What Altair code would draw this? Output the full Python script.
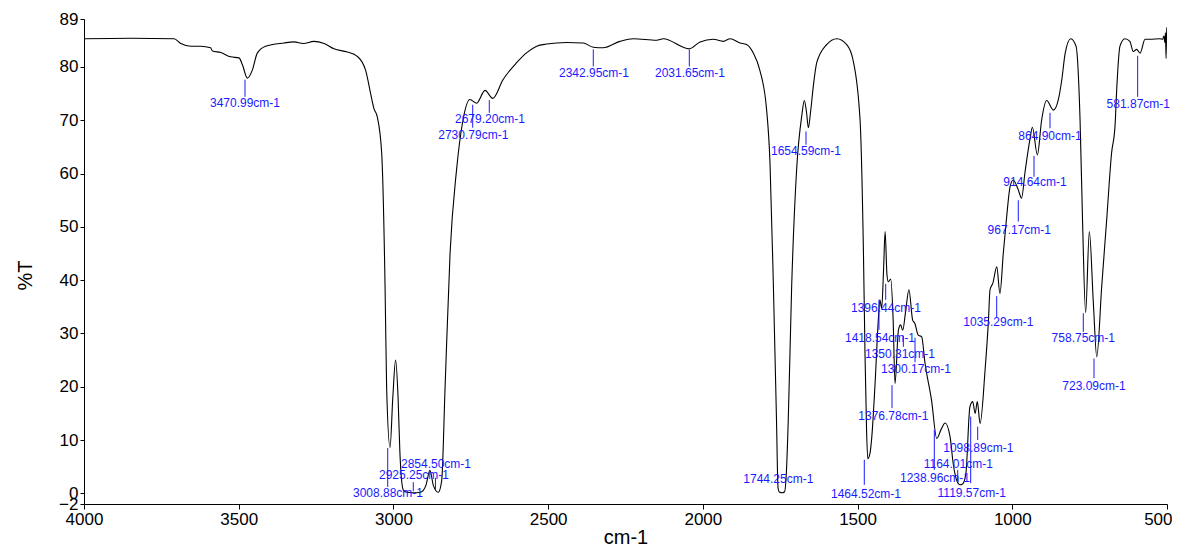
import altair as alt
import pandas as pd

# ---- spectrum (wavenumber cm-1, %T) ----
wavenumber = [
    4000, 3850, 3709, 3687, 3655, 3623, 3591, 3585, 3558, 3526, 3499, 3488, 3472, 3456,
    3440, 3413, 3354, 3321, 3291, 3257, 3224, 3192, 3149, 3117, 3090, 3074, 3063, 3052,
    3038, 3027, 3022, 3011, 3002, 2993, 2985, 2979, 2968, 2957, 2925, 2909, 2895, 2882,
    2871, 2855, 2844, 2833, 2817, 2796, 2775, 2753, 2731, 2704, 2679, 2646, 2602, 2569,
    2537, 2505, 2440, 2387, 2354, 2322, 2268, 2225, 2149, 2128, 2044, 2009, 1966, 1934,
    1912, 1880, 1859, 1837, 1816, 1794, 1783, 1772, 1762, 1757, 1752, 1744, 1736, 1730,
    1724, 1713, 1697, 1680, 1672, 1665, 1659, 1652, 1643, 1632, 1600, 1567, 1535, 1515,
    1492, 1481, 1476, 1471, 1467, 1460, 1454, 1444, 1433, 1428, 1422, 1416, 1411, 1405,
    1401, 1393, 1385, 1379, 1368, 1361, 1354, 1345, 1334, 1322, 1315, 1304, 1293, 1282,
    1261, 1244, 1230, 1217, 1201, 1191, 1180, 1169, 1160, 1150, 1137, 1128, 1120, 1113,
    1104, 1088, 1077, 1072, 1063, 1050, 1040, 1029, 1018, 1007, 997, 981, 970, 959,
    943, 935, 919, 905, 889, 867, 851, 840, 829, 811, 794, 781, 773, 763,
    751, 738, 727, 711, 695, 679, 668, 662, 652, 636, 620, 609, 598, 587,
    571, 555, 523, 514, 510, 507, 505, 503, 501, 500,
]
transmittance = [
    85.3, 85.4, 85.3, 84.4, 83.9, 83.9, 83.6, 83.0, 82.7, 81.9, 81.7, 80.4, 77.9, 79.4,
    82.6, 83.9, 84.5, 84.7, 84.4, 84.8, 84.4, 83.4, 82.8, 82.0, 79.4, 75.1, 72.2, 70.6,
    63.9, 38.7, 19.9, 8.6, 18.0, 25.0, 18.0, 7.5, 0.6, 0.2, 0.1, 0.3, 1.5, 4.3,
    1.5, 0.2, 2.4, 20.0, 45.0, 60.7, 70.1, 73.9, 73.2, 75.6, 74.1, 77.6, 80.8, 82.7,
    83.9, 84.3, 84.6, 84.5, 83.7, 83.6, 84.8, 85.3, 85.0, 85.3, 83.4, 84.7, 85.2, 84.8,
    85.3, 84.5, 84.2, 82.6, 79.4, 72.0, 62.0, 38.8, 13.7, 1.0, 0.2, 0.1, 0.3, 4.0,
    13.7, 38.8, 60.7, 71.0, 73.7, 71.5, 68.6, 71.5, 76.4, 80.8, 84.2, 85.3, 84.2, 81.4,
    70.1, 45.1, 26.3, 12.0, 6.5, 7.5, 10.6, 20.0, 32.5, 36.3, 34.7, 42.0, 49.1, 41.0,
    39.7, 40.2, 32.5, 20.6, 30.6, 31.6, 30.6, 34.0, 38.2, 32.5, 31.9, 29.7, 29.4, 24.4,
    17.5, 10.3, 12.0, 13.2, 10.6, 5.6, 2.5, 1.6, 1.8, 3.7, 16.2, 17.2, 15.0, 17.2,
    13.1, 23.1, 32.5, 38.2, 39.4, 42.5, 37.5, 45.1, 52.0, 57.6, 58.8, 57.0, 55.4, 60.2,
    66.4, 68.7, 63.5, 70.1, 73.7, 71.9, 73.9, 77.6, 82.6, 85.3, 83.9, 70.1, 51.3, 33.9,
    49.1, 35.7, 25.6, 38.8, 51.3, 63.9, 68.9, 76.4, 83.9, 85.3, 84.8, 82.9, 83.3, 82.6,
    85.2, 85.2, 85.3, 85.2, 85.8, 84.6, 86.4, 81.6, 87.4, 86.0,
]

# ---- peak annotations ----
peak_labels = [
    "3470.99cm-1", "3008.88cm-1", "2925.25cm-1", "2854.50cm-1", "2730.79cm-1",
    "2679.20cm-1", "2342.95cm-1", "2031.65cm-1", "1744.25cm-1", "1654.59cm-1",
    "1464.52cm-1", "1418.54cm-1", "1396.44cm-1", "1376.78cm-1", "1350.31cm-1",
    "1300.17cm-1", "1238.96cm-1", "1164.01cm-1", "1119.57cm-1", "1098.89cm-1",
    "1035.29cm-1", "967.17cm-1", "914.64cm-1", "864.90cm-1", "758.75cm-1",
    "723.09cm-1", "581.87cm-1",
]
line_x = [
    3479.7, 3018.5, 2935.8, 2864.1, 2743.8, 2690.2, 2354.1, 2043.8, None, 1666.7,
    1478.3, 1430.8, 1409.1, 1388.7, 1352.0, 1314.4, 1252.0, 1176.4, 1134.4, 1111.8,
    1050.4, 980.6, 929.8, 878.1, 770.5, 735.9, 594.8,
]
line_top = [
    77.6, 8.5, 2.1, 2.9, 72.9, 73.8, 83.3, 83.2, None, 67.9,
    6.3, 36.3, 39.3, 20.3, 29.6, 29.2, 11.9, 4.4, 14.4, 12.5,
    37.0, 55.0, 63.3, 71.4, 33.8, 25.3, 82.1,
]
line_bottom = [
    74.4, 1.2, 0.4, 0.6, 68.6, 71.4, 80.1, 80.1, None, 65.4,
    1.6, 30.7, 36.3, 16.0, 27.5, 24.6, 4.4, 2.2, 1.9, 10.0,
    33.1, 51.0, 59.4, 68.5, 30.3, 21.6, 74.4,
]
text_x = [
    3479.7, 3017.5, 2933.5, 2862.4, 2741.9, 2687.9, 2351.8, 2041.6, 1756.2, 1666.7,
    1472.8, 1427.6, 1408.1, 1384.5, 1362.9, 1311.2, 1249.8, 1174.5, 1131.2, 1109.9,
    1045.1, 977.3, 926.6, 878.1, 770.5, 735.9, 592.8,
]
text_y = [
    73.2, 0.1, 3.4, 5.5, 67.2, 70.2, 78.9, 78.9, 2.6, 64.2,
    -0.2, 29.2, 34.8, 14.6, 26.1, 23.3, 2.9, 5.5, 0.0, 8.6,
    32.2, 49.5, 58.4, 67.1, 29.1, 20.2, 73.0,
]

x_ticks = [4000, 3500, 3000, 2500, 2000, 1500, 1000, 500]
y_ticks = [-2, 0, 10, 20, 30, 40, 50, 60, 70, 80, 89]

spec_df = pd.DataFrame({"wn": wavenumber, "T": transmittance})
rule_df = pd.DataFrame(
    {"x": line_x, "y1": line_top, "y2": line_bottom, "label": peak_labels}
).dropna()
text_df = pd.DataFrame({"x": text_x, "y": text_y, "label": peak_labels})

FONT = "Liberation Sans"
BLUE = "#1a1aff"

x_scale = alt.Scale(domain=[500, 4000], reverse=True, nice=False, zero=False)
y_scale = alt.Scale(domain=[-2, 89], nice=False, zero=False)

x_axis = alt.Axis(
    values=x_ticks, title="cm-1", grid=False, labelOverlap=False, labelFlush=False,
    labelAlign={"condition": {"test": "datum.value == 500", "value": "right"}, "value": "center"},
    labelOffset={"condition": {"test": "datum.value == 500", "value": 5}, "value": 0},
    format="d", tickSize=5, labelPadding=2, labelFontSize=17, titleFontSize=20,
    titleFontWeight="normal", titleY=39, titleBaseline="alphabetic",
    domainColor="black", tickColor="black", labelColor="black", titleColor="black",
)
y_axis = alt.Axis(
    values=y_ticks, title="%T", grid=False, labelOverlap=False, labelFlush=False,
    format="d", tickSize=4, labelPadding=2, labelFontSize=17, titleFontSize=20,
    titleFontWeight="normal", titleX=-59, titleY=256, titleAngle=270,
    titleAlign="center", titleBaseline="middle",
    domainColor="black", tickColor="black", labelColor="black", titleColor="black",
)

spectrum = alt.Chart(spec_df).mark_line(
    color="black", strokeWidth=1.1, interpolate="monotone", clip=True
).encode(
    x=alt.X("wn:Q", scale=x_scale, axis=x_axis),
    y=alt.Y("T:Q", scale=y_scale, axis=y_axis),
    order=alt.Order("wn:Q", sort="descending"),
)

rules = alt.Chart(rule_df).mark_rule(color=BLUE, strokeWidth=1).encode(
    x=alt.X("x:Q", scale=x_scale),
    y=alt.Y("y1:Q", scale=y_scale),
    y2="y2:Q",
)

texts = alt.Chart(text_df).mark_text(
    color=BLUE, font=FONT, fontSize=12, align="center", baseline="middle"
).encode(
    x=alt.X("x:Q", scale=x_scale),
    y=alt.Y("y:Q", scale=y_scale),
    text="label:N",
)

chart = (
    alt.layer(spectrum, rules, texts)
    .properties(
        width=1083,
        height=485,
        autosize=alt.AutoSizeParams(type="none"),
        padding={"left": 76, "top": 11, "right": 5, "bottom": 42},
    )
    .configure(font=FONT)
    .configure_view(stroke=None)
    .configure_axis(labelFont=FONT, titleFont=FONT)
)

chart.save("out.html", embed_options={"renderer": "svg", "actions": False})
